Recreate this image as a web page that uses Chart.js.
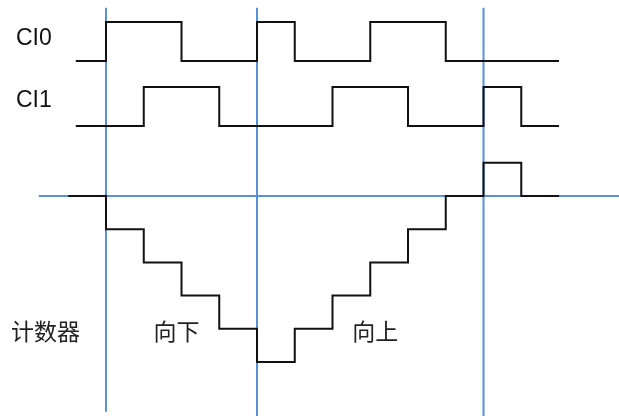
<!DOCTYPE html>
<html>
<head>
<meta charset="utf-8">
<script src="https://cdn.jsdelivr.net/npm/chart.js@4/dist/chart.umd.min.js"></script>
<style>
  html, body { margin: 0; padding: 0; background: #fff; }
  #wrap { width: 619px; height: 416px; }
</style>
</head>
<body>
<div id="wrap"><canvas id="timing" width="619" height="416"></canvas></div>
<script>
// edge times (in clock steps) and the level after each edge
const ci0Times = [-0.8, 0, 2, 4, 5, 7, 9, 12];
const ci0Levels = [0, 1, 0, 1, 0, 1, 0, 0];

const ci1Times = [-0.8, 1, 3, 6, 8, 10, 11, 12];
const ci1Levels = [0, 1, 0, 1, 0, 1, 0, 0];

const countTimes = [-1, 0, 1, 2, 3, 4, 5, 6, 7, 8, 9, 10, 11, 12];
const countValues = [0, -1, -2, -3, -4, -5, -4, -3, -2, -1, 0, 1, 0, 0];

// blue markers: zero line and the three vertical cursors
const markerTimes = [0, 4, 10];
const signalNames = ["CI0", "CI1"];
const sectionLabels = ["计数器", "向下", "向上"];

const BLUE = "#5b8fd6";
const BLACK = "#111";

const toPoints = (xs, ys) => xs.map((x, i) => ({ x: x, y: ys[i] }));

const stepLine = (data, yAxisID) => ({
  data: data,
  yAxisID: yAxisID,
  stepped: true,
  borderColor: BLACK,
  borderWidth: 2,
  pointRadius: 0,
  fill: false,
  order: 0,
});

const blueLine = (data) => ({
  data: data,
  yAxisID: "count",
  borderColor: BLUE,
  borderWidth: 2,
  pointRadius: 0,
  fill: false,
  order: 5,
});

const datasets = [
  stepLine(toPoints(ci0Times, ci0Levels), "ci0"),
  stepLine(toPoints(ci1Times, ci1Levels), "ci1"),
  stepLine(toPoints(countTimes, countValues), "count"),
  blueLine([{ x: -1.78, y: 0 }, { x: 14, y: 0 }]),
];
markerTimes.forEach((t, i) => {
  const bottom = i === 0 ? -6.5 : -7;
  datasets.push(blueLine([{ x: t, y: 5.67 }, { x: t, y: bottom }]));
});

// text labels drawn at scale positions
const labelPlugin = {
  id: "labels",
  afterDatasetsDraw(chart) {
    const { ctx, scales } = chart;
    const x = scales.x;
    ctx.save();
    ctx.textBaseline = "middle";
    ctx.fillStyle = "#111";
    ctx.font = "23px 'Liberation Sans', Arial, sans-serif";
    ctx.fillText(signalNames[0], 16, scales.ci0.getPixelForValue(0.58));
    ctx.fillText(signalNames[1], 16, scales.ci1.getPixelForValue(0.65));

    ctx.fillStyle = "#222";
    ctx.font = "23px 'Noto Sans CJK SC', sans-serif";
    const yText = scales.count.getPixelForValue(-4.07);
    ctx.fillText(sectionLabels[0], 11, yText);
    ctx.fillText(sectionLabels[1], x.getPixelForValue(1.26), yText);
    ctx.fillText(sectionLabels[2], x.getPixelForValue(6.52), yText);
    ctx.restore();
  },
};

new Chart(document.getElementById("timing"), {
  type: "line",
  data: { datasets: datasets },
  options: {
    responsive: false,
    animation: false,
    events: [],
    layout: { padding: 0 },
    plugins: { legend: { display: false }, tooltip: { enabled: false } },
    scales: {
      x: { type: "linear", display: false, min: -2.808, max: 13.589 },
      count: { type: "linear", display: false, min: -6.627, max: 5.904 },
      ci0: { type: "linear", display: false, min: -9.103, max: 1.564 },
      ci1: { type: "linear", display: false, min: -7.436, max: 3.231 },
    },
  },
  plugins: [labelPlugin],
});
</script>
</body>
</html>
